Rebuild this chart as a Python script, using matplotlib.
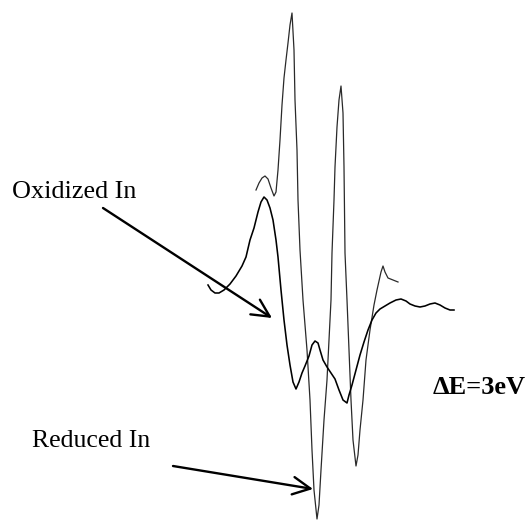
import matplotlib.pyplot as plt
import numpy as np

# Auger derivative spectra of In (energy channel vs. dN/dE, arbitrary units)
reduced_e = [256, 259, 262, 265, 268, 271, 274, 276, 278, 280, 282, 284, 286, 288, 290, 292,
             294, 295, 297, 298, 300, 303, 307, 310, 312, 314, 317,
             319, 321, 324, 327, 329, 331, 332, 334, 335, 337, 339, 341,
             343, 344, 345, 347, 349, 351, 353, 356,
             358, 360, 363, 366, 370, 374, 377, 381, 383, 385, 388, 393, 398]
reduced_s = [110, 117, 122, 124, 121, 112, 104, 108, 130, 160, 195, 222, 240, 257, 275, 287,
             250, 200, 150, 100, 50, 0, -50, -100, -150, -190, -219,
             -205, -170, -120, -80, -40, 0, 47, 100, 133, 173, 200, 214,
             187, 133, 47, 0, -50, -100, -140, -166,
             -155, -130, -100, -60, -30, -5, 10, 28, 34, 28, 22, 20, 18]

oxidized_e = [208, 211, 215, 219, 224, 230, 236, 242, 246, 250, 254, 258, 261, 264,
              267, 270, 273, 276, 278, 281, 284, 287, 290, 293, 296,
              299, 302, 305, 309, 312, 315, 318, 320, 323, 327, 331, 335, 339, 343, 347,
              349, 352, 356, 360, 364, 368, 372, 376, 380, 385, 390, 396, 401, 406,
              410, 415, 420, 425, 430, 435, 440, 445, 450, 454]
oxidized_s = [15, 10, 7, 7, 10, 16, 24, 34, 43, 60, 72, 88, 98, 103,
              100, 92, 80, 60, 43, 10, -20, -45, -65, -82, -89,
              -82, -73, -66, -56, -45, -41, -43, -50, -60, -67, -73, -79, -90, -100, -103,
              -95, -85, -70, -55, -42, -30, -20, -13, -9, -6, -3, 0, 1, -1,
              -4, -6, -7, -6, -4, -3, -5, -8, -10, -10]

labels = ["Oxidized In", "Reduced In"]
delta_label = "\u0394E=3eV"

fig = plt.figure(figsize=(5.27, 5.21), dpi=100)
ax = fig.add_axes([0, 0, 1, 1])
ax.set_xlim(0, 527)
ax.set_ylim(-221, 300)
ax.axis("off")

ax.plot(reduced_e, reduced_s, color="#2a2a2a", lw=0.9)
ax.plot(oxidized_e, oxidized_s, color="black", lw=1.15)

serif = ["Liberation Serif", "DejaVu Serif"]
arrow = dict(arrowstyle="->,head_length=0.9,head_width=0.45", lw=1.7, color="black",
             shrinkA=0, shrinkB=0, mutation_scale=14)

ax.text(12, 102, labels[0], fontsize=18.8, family=serif, va="baseline")
ax.annotate("", xy=(272, -18), xytext=(103, 92), arrowprops=arrow)

ax.text(32, -147, labels[1], fontsize=18.5, family=serif, va="baseline")
ax.annotate("", xy=(313, -189), xytext=(173, -166), arrowprops=arrow)

ax.text(433, -94, delta_label, fontsize=19, family=serif, weight="bold", va="baseline")

fig.savefig("out.png", dpi=100)
